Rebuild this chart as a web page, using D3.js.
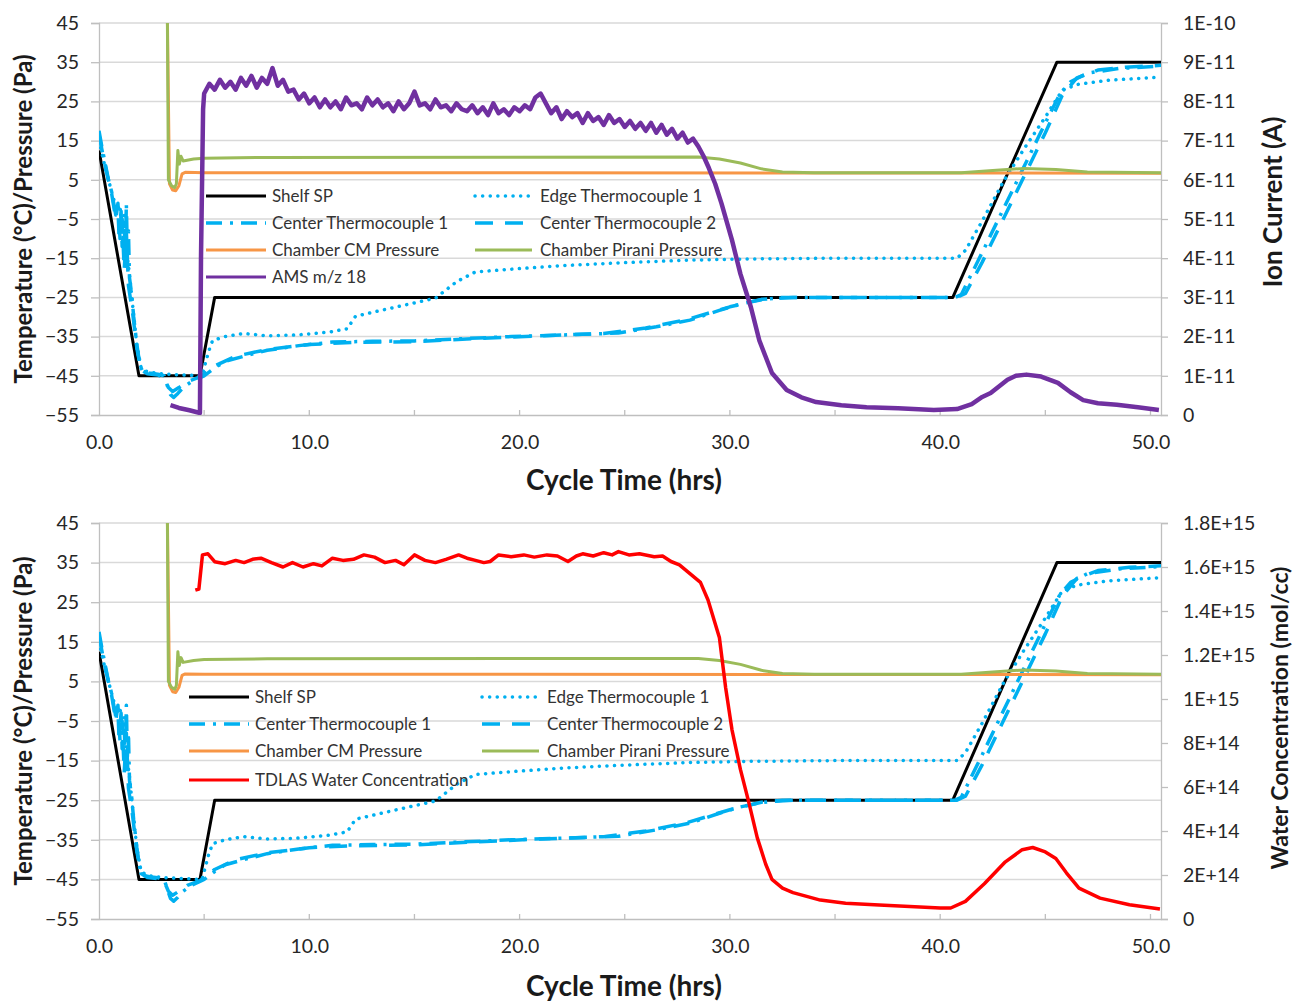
<!DOCTYPE html>
<html>
<head>
<meta charset="utf-8">
<script src="https://cdn.jsdelivr.net/npm/d3@7"></script>
<style>
  body { margin: 0; background: #fff; }
  text { font-family: Lato, "Open Sans", sans-serif; fill: #262626; }
</style>
</head>
<body>
<svg id="chart" width="1296" height="1002"></svg>
<script>
// ---- data (time in hrs) ----
var leftTicks = [45, 35, 25, 15, 5, -5, -15, -25, -35, -45, -55];
var xTicks = [0, 10, 20, 30, 40, 50];
var xMinorTicks = [5, 10, 15, 20, 25, 30, 35, 40, 45, 50];
var ionTicks = [0, 1, 2, 3, 4, 5, 6, 7, 8, 9, 10];            // x 1E-11 A
var ionLabels = ["0", "1E-11", "2E-11", "3E-11", "4E-11", "5E-11", "6E-11", "7E-11", "8E-11", "9E-11", "1E-10"];
var waterTicks = [0, 2, 4, 6, 8, 10, 12, 14, 16, 18];          // x 1E14 mol/cc
var waterLabels = ["0", "2E+14", "4E+14", "6E+14", "8E+14", "1E+15", "1.2E+15", "1.4E+15", "1.6E+15", "1.8E+15"];

var shelfSP = [[0,12.5],[1.9,-45],[4.8,-45],[5.5,-25],[40.6,-25],[45.55,35],[50.5,35]];

var edgeTC1 = [[0,15],[0.3,8],[0.6,2],[0.85,-3],[1.0,-1.5],[1.1,-9],[1.2,-4],[1.3,-13],[1.45,-19],[1.6,-27],
  [1.8,-37],[2.0,-43],[2.3,-44],[3,-44.5],[4,-44.8],[4.9,-45],[5.2,-39],[5.4,-36],[6,-35],[6.9,-34.2],
  [8,-34.8],[9.4,-34.6],[11,-33.8],[11.8,-33],[12.2,-29.8],[14,-27.6],[16,-25.2],[17,-21],[17.9,-18.5],
  [19.6,-17.8],[22,-16.9],[24.7,-16.2],[28,-15.5],[30.8,-15.2],[35,-15],[40.8,-15],[41.2,-13],[42,-5.5],
  [43,4.5],[44,13],[45,21],[45.8,27.8],[46.5,29.3],[48,30.4],[50.5,31.2]];

var centerTC1 = [[0,17.5],[0.15,13],[0.3,9],[0.45,5],[0.6,2],[0.7,-1],[0.8,-4],[0.9,-2],[0.95,-9],[1.05,-3],
  [1.1,-12],[1.2,-6],[1.25,-16],[1.3,-1],[1.35,-14],[1.4,-8],[1.45,-20],[1.55,-24],[1.65,-30],[1.8,-37],
  [1.95,-42.5],[2.1,-44],[2.4,-44.3],[2.8,-44.6],[3.1,-45],[3.25,-47.5],[3.4,-49.8],[3.55,-50.5],[3.75,-49.5],
  [4.0,-48],[4.4,-46.5],[4.8,-45.5],[5.0,-45],[5.5,-43],[6.0,-41.3],[6.9,-40],[8,-38.5],[9.5,-37.3],
  [11.1,-36.4],[13,-36.2],[15,-36.1],[17,-35.6],[19.6,-35],[22,-34.6],[24.7,-34.1],[26.5,-32.5],[28.1,-30.8],
  [29.5,-28.3],[30.5,-26.7],[31.5,-25.6],[32.5,-25],[40.7,-25],[41,-24.3],[42,-13.5],[43,-2.5],[44,8.5],
  [45,19.5],[45.7,27],[46.2,30],[47,32.2],[48.5,33.4],[50.5,34]];

var centerTC2 = [[0,16.5],[0.2,11],[0.4,6],[0.6,1.5],[0.8,-5],[0.9,-1],[1.0,-10],[1.1,-5],[1.2,-18],[1.3,-8],
  [1.4,-22],[1.6,-29],[1.8,-38],[2.0,-43.5],[2.3,-44.5],[2.8,-44.8],[3.1,-45.5],[3.3,-48],[3.5,-49],[3.8,-48],
  [4.2,-46.5],[4.8,-45.3],[5.5,-42.5],[6.5,-40],[8,-38.3],[10,-37],[12,-36.5],[15,-36.3],[18,-35.5],[21,-34.8],
  [24,-34.2],[26,-32.8],[28,-30.6],[30,-27.4],[31.5,-25.5],[33,-25],[40.8,-25],[41.2,-24],[42,-16],[43,-5],
  [44,6],[45,17],[45.8,26.5],[46.5,31],[47.5,33],[49,33.8],[50.5,34.2]];

var chamberCM = [[3.22,60],[3.35,4],[3.5,2.4],[3.65,2.2],[3.8,3.5],[3.95,6.5],[4.1,6.9],[5,6.8],[20,6.8],[50.5,6.7]];

var chamberPirani = [[3.2,90],[3.3,5],[3.45,3.5],[3.6,3],[3.68,4],[3.75,12.5],[3.82,9],[3.9,11],[4.0,9.8],
  [4.5,10.3],[5,10.5],[8,10.7],[28.5,10.8],[29.5,10.3],[30.5,9.3],[31.5,7.8],[32.5,7.0],[34,6.8],[41,6.8],
  [42.5,7.4],[44,7.9],[45.5,7.6],[47,7.0],[50.5,6.8]];

// AMS m/z 18, ion current in 1E-11 A
var amsMz18 = [[3.4,0.25],[3.8,0.18],[4.3,0.12],[4.8,0.05],[4.85,4],[4.95,7.8],[5.0,8.2],
  [5.25,8.45],[5.5,8.3],[5.75,8.55],[6.0,8.35],[6.25,8.5],[6.5,8.3],[6.75,8.6],[7.0,8.4],[7.25,8.65],
  [7.5,8.35],[7.75,8.6],[8.0,8.45],[8.25,8.85],[8.5,8.4],[8.75,8.55],[9.0,8.25],[9.25,8.3],[9.5,8.05],
  [9.75,8.2],[10.0,7.95],[10.25,8.1],[10.5,7.85],[10.75,8.05],[11.0,7.85],[11.25,8.0],[11.5,7.8],[11.75,8.1],
  [12.0,7.9],[12.25,7.95],[12.5,7.8],[12.75,8.1],[13.0,7.9],[13.25,8.05],[13.5,7.85],[13.75,7.95],[14.0,7.75],
  [14.25,8.0],[14.5,7.8],[14.75,7.95],[15.0,8.25],[15.25,7.9],[15.5,7.95],[15.75,7.8],[16.0,8.05],[16.25,7.85],
  [16.5,7.9],[16.75,7.75],[17.0,7.95],[17.25,7.8],[17.5,7.75],[17.75,7.9],[18.0,7.7],[18.25,7.85],[18.5,7.65],
  [18.75,7.95],[19.0,7.7],[19.25,7.8],[19.5,7.65],[19.75,7.85],[20.0,7.75],[20.25,7.9],[20.5,7.8],[20.75,8.1],
  [21.0,8.2],[21.25,7.95],[21.5,7.7],[21.75,7.85],[22.0,7.55],[22.25,7.75],[22.5,7.6],[22.75,7.7],[23.0,7.45],
  [23.25,7.7],[23.5,7.5],[23.75,7.6],[24.0,7.4],[24.25,7.65],[24.5,7.45],[24.75,7.55],[25.0,7.35],[25.25,7.5],
  [25.5,7.3],[25.75,7.45],[26.0,7.25],[26.25,7.45],[26.5,7.2],[26.75,7.4],[27.0,7.15],[27.25,7.3],[27.5,7.05],
  [27.75,7.2],[28.0,6.95],[28.25,7.05],[28.5,6.85],[28.75,6.6],[29.0,6.3],[29.3,5.9],[29.6,5.4],[30.1,4.46],
  [30.5,3.6],[31,2.75],[31.4,1.9],[32,1.07],[32.7,0.64],[33.4,0.45],[34.1,0.33],[35.3,0.25],[36.5,0.2],
  [38,0.17],[39.7,0.13],[40.8,0.15],[41.5,0.28],[42,0.46],[42.4,0.56],[43.2,0.9],[43.6,1.0],[44.1,1.03],
  [44.8,0.98],[45.6,0.82],[46.2,0.58],[46.8,0.38],[47.5,0.3],[48.4,0.26],[49.4,0.2],[50.4,0.13]];

// TDLAS water concentration in 1E14 mol/cc
var tdlasWater = [[4.58,14.95],[4.75,15.0],[4.92,16.55],[5.18,16.6],[5.5,16.24],[6.0,16.15],[6.5,16.3],
  [6.9,16.2],[7.3,16.35],[7.7,16.4],[8.2,16.2],[8.75,16.0],[9.2,16.2],[9.7,16.0],[10.2,16.15],[10.6,16.05],
  [11.1,16.4],[11.6,16.3],[12.1,16.35],[12.6,16.55],[13.1,16.45],[13.6,16.2],[14.1,16.3],[14.5,16.1],[15.0,16.55],
  [15.5,16.3],[16.0,16.2],[16.5,16.35],[17.1,16.55],[17.5,16.4],[17.9,16.3],[18.3,16.2],[18.6,16.25],[19.0,16.55],
  [19.6,16.47],[20.2,16.55],[20.7,16.45],[21.3,16.55],[21.8,16.5],[22.3,16.25],[22.7,16.5],[23.0,16.6],[23.5,16.5],
  [24.0,16.65],[24.4,16.55],[24.7,16.7],[25.2,16.55],[25.7,16.6],[26.4,16.47],[26.8,16.5],[27.2,16.25],[27.6,16.1],
  [28.1,15.7],[28.6,15.3],[28.96,14.5],[29.5,12.8],[29.8,10.5],[30.1,8.6],[30.5,6.8],[30.9,5.3],[31.3,3.7],
  [31.7,2.5],[32.0,1.8],[32.5,1.4],[33,1.2],[34.3,0.86],[35.5,0.72],[37.1,0.64],[40,0.5],[40.5,0.5],[41.2,0.8],
  [42.1,1.6],[43.1,2.6],[43.9,3.15],[44.4,3.25],[45,3.05],[45.5,2.75],[46,2.1],[46.6,1.4],[47.6,0.95],[49,0.65],
  [50.45,0.45]];

var BLUE = "#00B0F0";
var seriesStyle = {
  shelf:  {name: "Shelf SP", color: "#000000", width: 3, dash: null},
  edge:   {name: "Edge Thermocouple 1", color: BLUE, width: 3.5, dash: "0.1 7.5", cap: "round"},
  ctc1:   {name: "Center Thermocouple 1", color: BLUE, width: 3.5, dash: "16 8 3 8"},
  ctc2:   {name: "Center Thermocouple 2", color: BLUE, width: 3.5, dash: "18 12"},
  cm:     {name: "Chamber CM Pressure", color: "#F79646", width: 3, dash: null},
  pirani: {name: "Chamber Pirani Pressure", color: "#9BBB59", width: 3, dash: null},
  ams:    {name: "AMS m/z 18", color: "#7030A0", width: 3, lineWidth: 4.5, dash: null},
  tdlas:  {name: "TDLAS Water Concentration", color: "#FF0000", width: 3, lineWidth: 3.5, dash: null}
};

var svg = d3.select("#chart");

function drawPanel(p) {
  var g = svg.append("g");
  var x = d3.scaleLinear().domain([0, 50.5]).range([99, 1161]);
  var y = d3.scaleLinear().domain([-55, 45]).range([p.bottom, p.top]);
  var y2 = d3.scaleLinear().domain(p.rightDomain).range([p.bottom, p.top]);

  var clipId = "clip" + p.id;
  svg.append("clipPath").attr("id", clipId).append("rect")
    .attr("x", 99).attr("y", p.top).attr("width", 1062).attr("height", p.bottom - p.top);

  // gridlines
  g.selectAll(".grid").data(leftTicks.filter(function(d){return d > -55;})).enter().append("line")
    .attr("x1", 99).attr("x2", 1161)
    .attr("y1", function(d){return y(d);}).attr("y2", function(d){return y(d);})
    .style("stroke", "#d9d9d9").style("stroke-width", 1.5);

  // left axis
  var la = g.append("g").attr("transform", "translate(99,0)")
    .call(d3.axisLeft(y).tickValues(leftTicks).tickSize(8).tickPadding(12).tickFormat(d3.format("d")));
  la.selectAll("line, path").style("stroke", "#bfbfbf").style("stroke-width", 1.3);
  la.selectAll("text").attr("font-size", "19.5px").style("font-family", "Lato, sans-serif").style("fill", "#262626");

  // right axis
  var ra = g.append("g").attr("transform", "translate(1161,0)")
    .call(d3.axisRight(y2).tickValues(p.rightTicks).tickSize(7).tickPadding(15)
      .tickFormat(function(d, i){return p.rightLabels[i];}));
  ra.selectAll("line, path").style("stroke", "#bfbfbf").style("stroke-width", 1.3);
  ra.selectAll("text").attr("font-size", "19.5px").style("font-family", "Lato, sans-serif").style("fill", "#262626");

  // bottom axis
  var ba = g.append("g").attr("transform", "translate(0," + p.bottom + ")")
    .call(d3.axisBottom(x).tickValues(xTicks).tickSize(0).tickPadding(20).tickFormat(d3.format(".1f")));
  ba.select("path").style("stroke", "#bfbfbf").style("stroke-width", 1.5);
  ba.selectAll("text").attr("font-size", "19.5px").style("font-family", "Lato, sans-serif").style("fill", "#262626");
  g.selectAll(".minor").data(xMinorTicks).enter().append("line")
    .attr("x1", function(d){return x(d);}).attr("x2", function(d){return x(d);})
    .attr("y1", p.bottom).attr("y2", p.bottom - 5)
    .style("stroke", "#bfbfbf").style("stroke-width", 1.3);

  // series
  var lineL = d3.line().x(function(d){return x(d[0]);}).y(function(d){return y(d[1]);});
  var lineR = d3.line().x(function(d){return x(d[0]);}).y(function(d){return y2(d[1]);});
  var plot = g.append("g").attr("clip-path", "url(#" + clipId + ")");
  p.series.forEach(function(s) {
    var st = seriesStyle[s.key];
    plot.append("path").datum(s.data)
      .attr("d", s.right ? lineR : lineL)
      .style("fill", "none")
      .style("stroke", st.color)
      .style("stroke-width", st.lineWidth || st.width)
      .style("stroke-linejoin", "round")
      .style("stroke-linecap", st.cap || "butt")
      .style("stroke-dasharray", st.dash);
  });

  // legend (transparent, 2 columns)
  var leg = g.append("g").selectAll("g").data(p.legend).enter().append("g")
    .attr("transform", function(d, i){
      return "translate(" + p.legCols[i % 2] + "," + p.legRows[Math.floor(i / 2)] + ")";
    });
  leg.append("line")
    .attr("x1", 0).attr("x2", function(d, i){return i % 2 ? 57 : 60;})
    .attr("y1", 0).attr("y2", 0)
    .style("stroke", function(d){return seriesStyle[d].color;})
    .style("stroke-width", function(d){return seriesStyle[d].width;})
    .style("stroke-linecap", function(d){return seriesStyle[d].cap || "butt";})
    .style("stroke-dasharray", function(d){return seriesStyle[d].dash;});
  leg.append("text")
    .text(function(d){return seriesStyle[d].name;})
    .attr("x", function(d, i){return i % 2 ? 65 : 66;})
    .attr("y", 0).attr("dy", "0.35em")
    .attr("font-size", "17px")
    .style("fill", "#333");

  // axis titles
  g.append("text").text("Cycle Time (hrs)")
    .attr("x", 624).attr("y", p.titleY)
    .attr("text-anchor", "middle").attr("font-size", "28px").attr("font-weight", "bold").style("fill", "#1a1a1a");
  g.append("text").text("Temperature (°C)/Pressure (Pa)")
    .attr("transform", "translate(32," + ((p.top + p.bottom) / 2) + ") rotate(-90)")
    .attr("text-anchor", "middle").attr("font-size", "24px").attr("font-weight", "bold").style("fill", "#1a1a1a");
  g.append("text").text(p.rightTitle)
    .attr("transform", "translate(" + p.rightTitleX + "," + p.rightTitleY + ") rotate(-90)")
    .attr("text-anchor", "middle").attr("font-size", p.rightTitleSize).attr("font-weight", "bold").style("fill", "#1a1a1a");
}

drawPanel({
  id: 1, top: 23, bottom: 415, titleY: 490,
  rightDomain: [0, 10], rightTicks: ionTicks, rightLabels: ionLabels,
  rightTitle: "Ion Current (A)", rightTitleX: 1282, rightTitleY: 202, rightTitleSize: "26px",
  series: [
    {key: "shelf", data: shelfSP}, {key: "edge", data: edgeTC1}, {key: "ctc1", data: centerTC1},
    {key: "ctc2", data: centerTC2}, {key: "cm", data: chamberCM}, {key: "pirani", data: chamberPirani},
    {key: "ams", data: amsMz18, right: true}
  ],
  legend: ["shelf", "edge", "ctc1", "ctc2", "cm", "pirani", "ams"],
  legCols: [206, 475], legRows: [196, 223, 250, 277]
});

drawPanel({
  id: 2, top: 523, bottom: 919, titleY: 996,
  rightDomain: [0, 18], rightTicks: waterTicks, rightLabels: waterLabels,
  rightTitle: "Water Concentration (mol/cc)", rightTitleX: 1288, rightTitleY: 718, rightTitleSize: "23px",
  series: [
    {key: "shelf", data: shelfSP}, {key: "edge", data: edgeTC1}, {key: "ctc1", data: centerTC1},
    {key: "ctc2", data: centerTC2}, {key: "cm", data: chamberCM}, {key: "pirani", data: chamberPirani},
    {key: "tdlas", data: tdlasWater, right: true}
  ],
  legend: ["shelf", "edge", "ctc1", "ctc2", "cm", "pirani", "tdlas"],
  legCols: [189, 482], legRows: [697, 724, 751, 780]
});
</script>
</body>
</html>
